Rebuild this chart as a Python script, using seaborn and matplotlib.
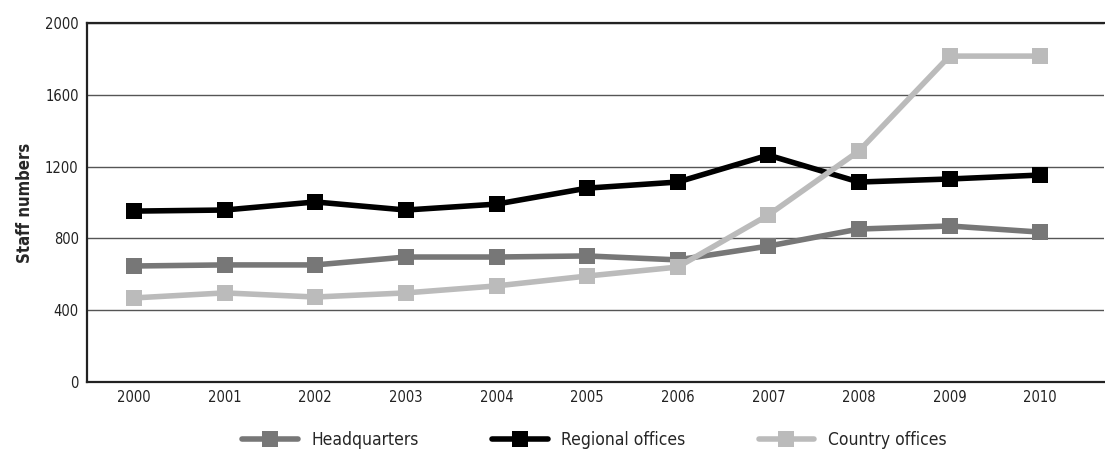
import matplotlib
matplotlib.use("Agg")
import matplotlib.pyplot as plt
import seaborn as sns
import pandas as pd

years = [2000, 2001, 2002, 2003, 2004, 2005, 2006, 2007, 2008, 2009, 2010]
headquarters = [646, 652, 652, 696, 696, 702, 680, 757, 852, 869, 835]
regional_offices = [952, 958, 1003, 958, 991, 1080, 1114, 1264, 1114, 1131, 1153]
country_offices = [468, 496, 473, 496, 535, 590, 640, 930, 1287, 1816, 1816]
series_names = ["Headquarters", "Regional offices", "Country offices"]
series_colors = ["#777777", "#000000", "#bbbbbb"]

rows = []
for name, vals in zip(series_names, [headquarters, regional_offices, country_offices]):
    for i, (yr, v) in enumerate(zip(years, vals)):
        rows.append({"pos": i, "year": yr, "series": name, "staff": v})
df = pd.DataFrame(rows)

sns.set_style("white")
plt.rcParams["font.family"] = ["DejaVu Sans"]
plt.rcParams["font.stretch"] = "condensed"

fig = plt.figure(figsize=(11.05, 4.53), dpi=100)
ax = fig.add_axes([0.0787, 0.157, 0.92, 0.792])

sns.lineplot(data=df, x="pos", y="staff", hue="series", hue_order=series_names,
             palette=series_colors, marker="s", markersize=12, linewidth=4,
             markeredgewidth=0, ax=ax, legend=True)

ax.set_xlim(-0.52, 10.7)
ax.set_ylim(0, 2000)
ax.set_yticks([0, 400, 800, 1200, 1600, 2000])
ax.set_xticks(range(len(years)))
ax.set_xticklabels([str(y) for y in years])
ax.tick_params(axis="both", length=0, labelsize=10.5, colors="#222222", pad=6)
ax.set_xlabel("")
ax.set_ylabel("Staff numbers", fontsize=12, fontweight="bold", labelpad=8)
ax.yaxis.grid(True, color="#555555", linewidth=1)
ax.set_axisbelow(True)
for side in ["left", "bottom", "top"]:
    ax.spines[side].set_color("#222222")
    ax.spines[side].set_linewidth(1.6)
ax.spines["right"].set_visible(False)

handles, labels = ax.get_legend_handles_labels()
ax.get_legend().remove()
fig.legend(handles, labels, loc="center", bbox_to_anchor=(0.538, 0.028), ncol=3,
           frameon=False, fontsize=12.5, handlelength=3.2, columnspacing=4.2,
           handletextpad=0.8)

fig.savefig("out.png", dpi=100)
